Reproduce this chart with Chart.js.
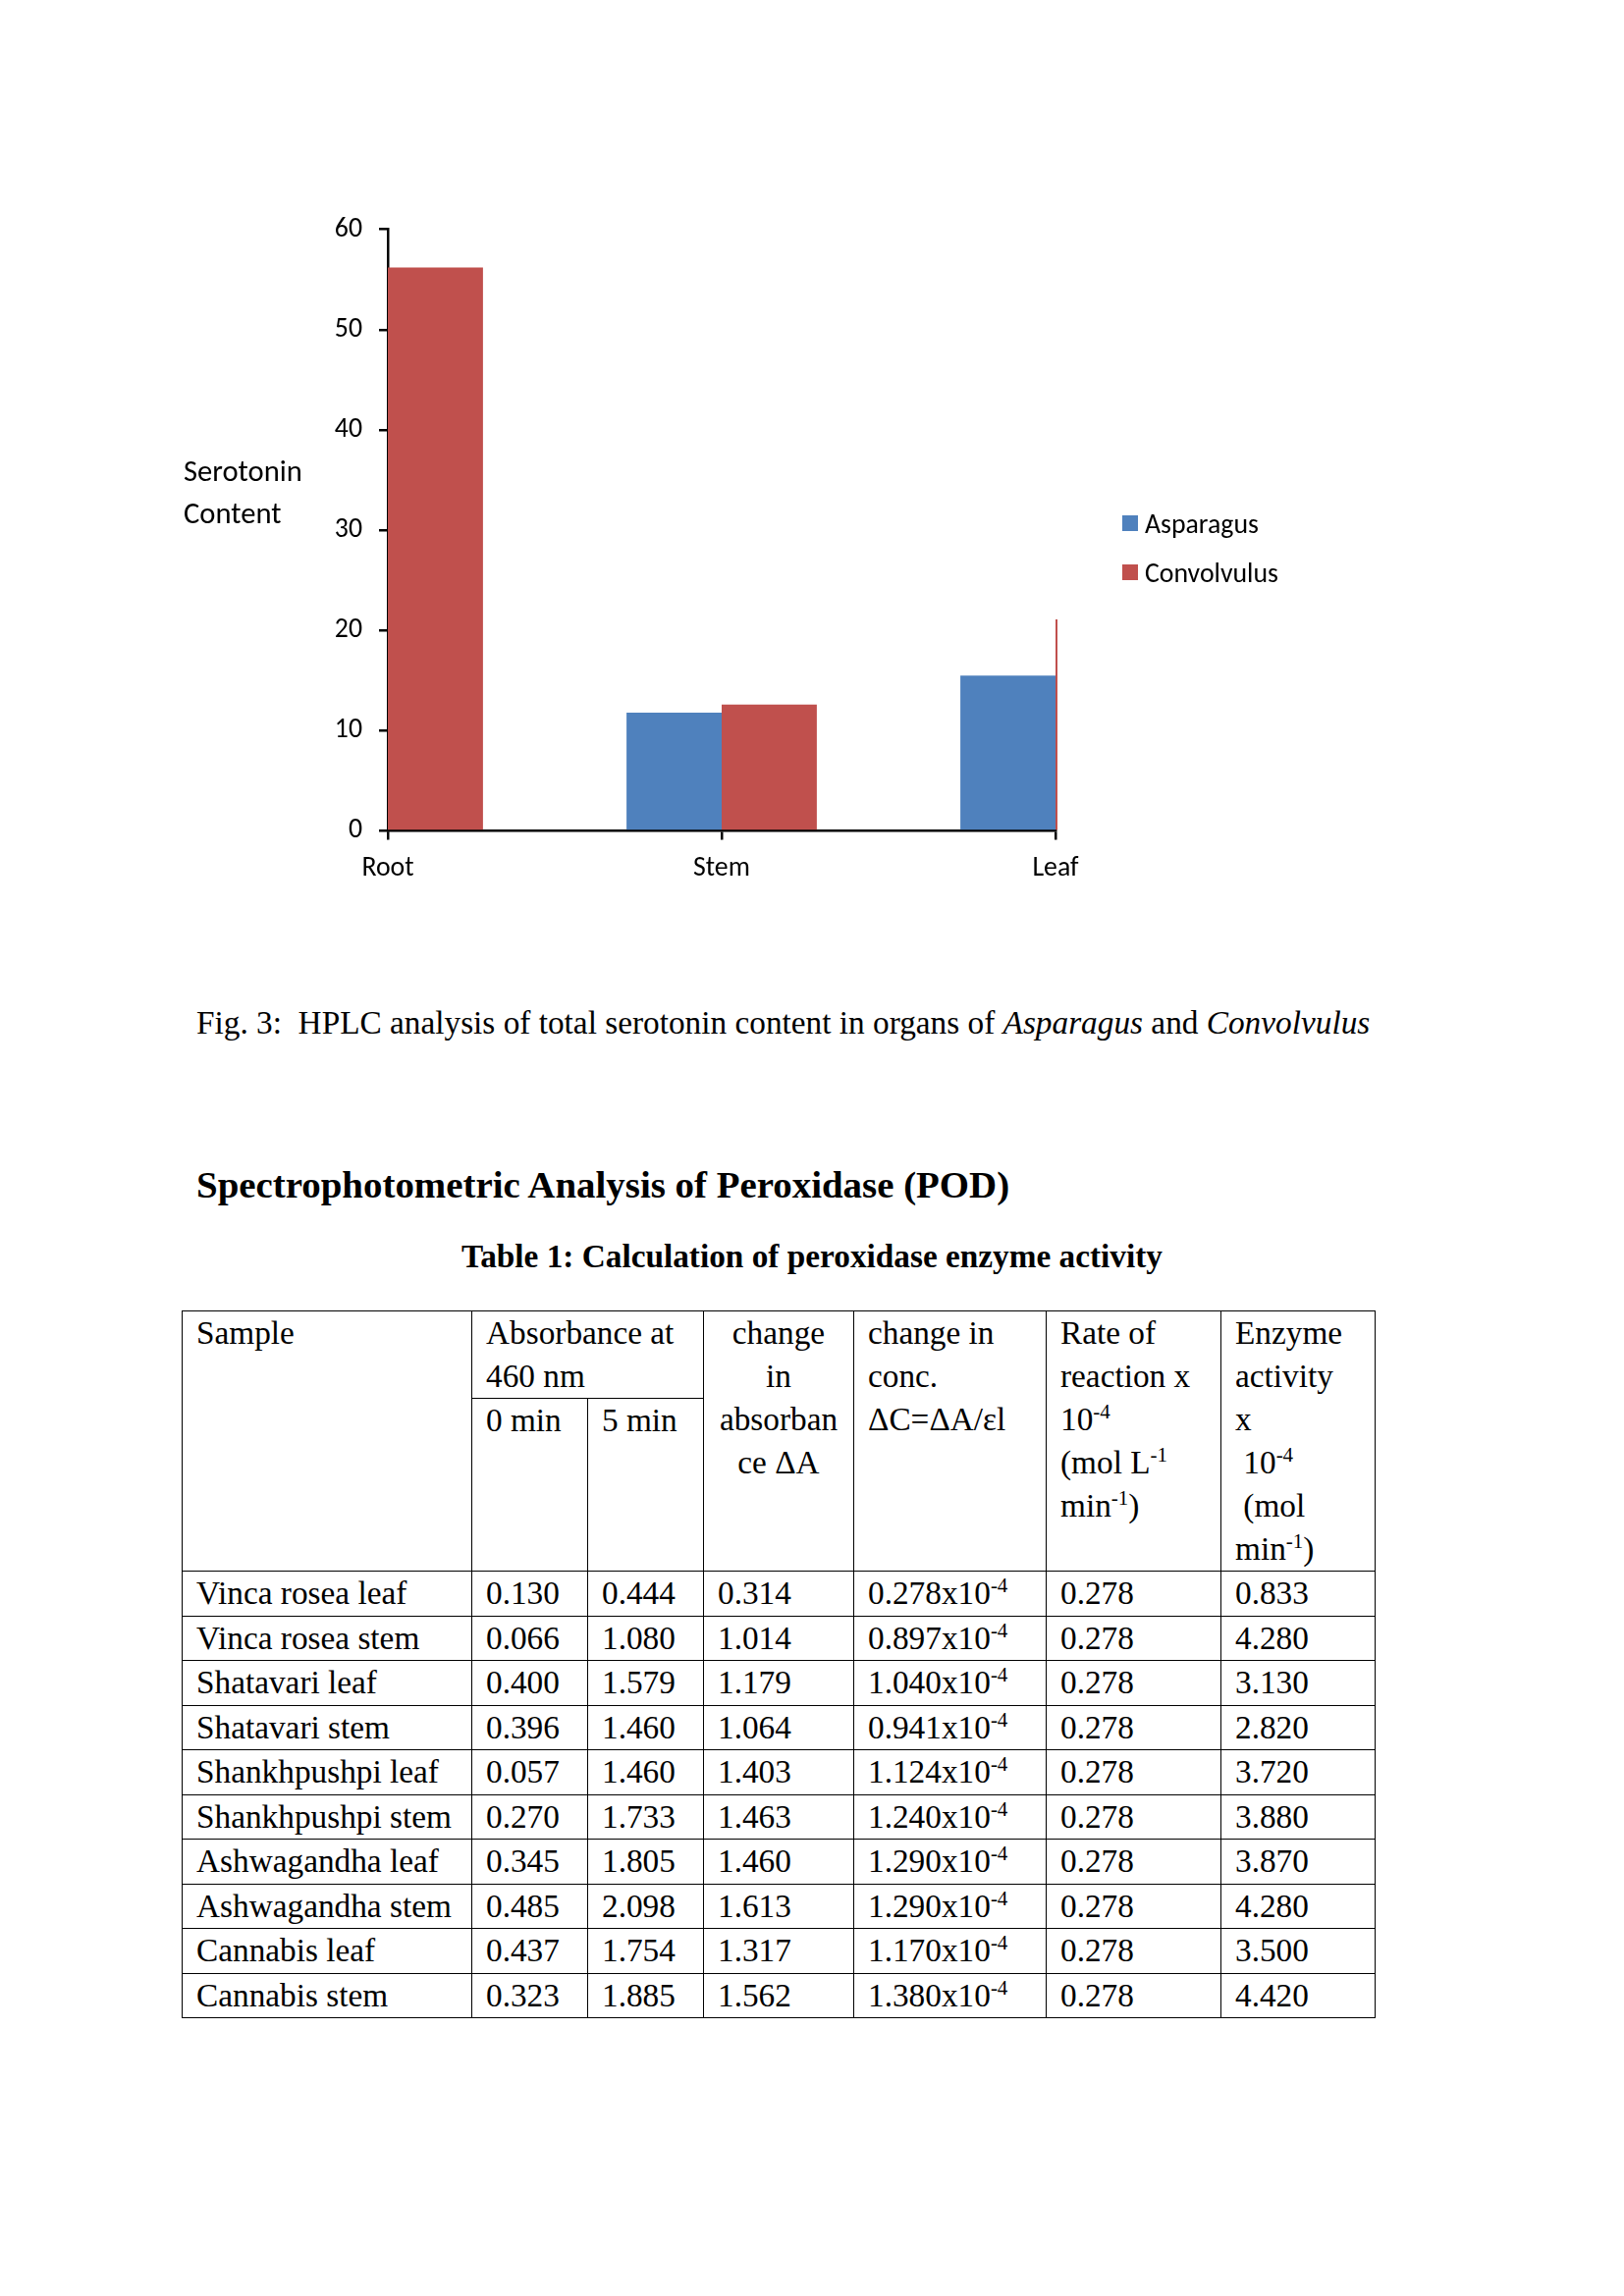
<!DOCTYPE html>
<html>
<head>
<meta charset="utf-8">
<script src="https://cdn.jsdelivr.net/npm/chart.js@4.4.1/dist/chart.umd.min.js"></script>
<style>
  html, body { margin: 0; padding: 0; background: #fff; }
  body { width: 1654px; height: 2339px; position: relative; overflow: hidden;
         font-family: "Liberation Serif", "Times New Roman", serif; color: #000; }
  .abs { position: absolute; }
  #chartBox { left: 300px; top: 200px; width: 880px; height: 720px; }
  .sans { font-family: Carlito, Lato, sans-serif; }
  #yTitle { left: 187px; top: 459px; font-size: 30.6px; line-height: 42.5px; }
  #legend { left: 1143px; top: 508px; font-size: 27.8px; }
  #legend .item { display: flex; align-items: center; height: 50px; }
  #legend .swatch { width: 16px; height: 16px; margin-right: 7px; }
  #caption { left: 200px; top: 1022px; font-size: 33.3px; line-height: 40px; white-space: pre; }
  #heading { left: 200px; top: 1183px; font-size: 38.9px; line-height: 48px; font-weight: bold; white-space: nowrap; }
  #tableTitle { left: 200px; width: 1254px; top: 1260px; font-size: 33.3px; line-height: 40px;
                font-weight: bold; text-align: center; }
  #podTable { left: 185px; top: 1335px; border-collapse: collapse; font-size: 33.3px; table-layout: fixed; }
  #podTable th, #podTable td { border: 1px solid #000; padding: 0 0 0 14px; line-height: 44px;
                               font-weight: normal; text-align: left; vertical-align: top; white-space: pre; }
  #podTable th.c { text-align: center; padding: 0; }
  #podTable tr.head1 { height: 89px; }
  #podTable tr.head2 { height: 176px; }
  #podTable td { height: 44.5px; vertical-align: middle; }
  .sup { font-size: 21px; position: relative; top: -12px; line-height: 0; }
</style>
</head>
<body>

<div id="chartBox" class="abs"><canvas id="serotoninChart" width="880" height="720"></canvas></div>
<div id="yTitle" class="abs sans">Serotonin<br>Content</div>
<div id="legend" class="abs sans"></div>

<div id="caption" class="abs">Fig. 3:  HPLC analysis of total serotonin content in organs of <i>Asparagus</i> and <i>Convolvulus</i></div>
<div id="heading" class="abs">Spectrophotometric Analysis of Peroxidase (POD)</div>
<div id="tableTitle" class="abs">Table 1: Calculation of peroxidase enzyme activity</div>

<table id="podTable" class="abs">
  <colgroup>
    <col style="width:295px"><col style="width:118px"><col style="width:118px"><col style="width:153px">
    <col style="width:196px"><col style="width:178px"><col style="width:157px">
  </colgroup>
  <thead>
    <tr class="head1">
      <th rowspan="2">Sample</th>
      <th colspan="2">Absorbance at<br>460 nm</th>
      <th rowspan="2" class="c">change<br>in<br>absorban<br>ce ΔA</th>
      <th rowspan="2">change in<br>conc.<br>ΔC=ΔA/εl</th>
      <th rowspan="2">Rate of<br>reaction x<br>10<span class="sup">-4</span><br>(mol L<span class="sup">-1</span><br>min<span class="sup">-1</span>)</th>
      <th rowspan="2">Enzyme<br>activity<br>x<br> 10<span class="sup">-4</span><br> (mol<br>min<span class="sup">-1</span>)</th>
    </tr>
    <tr class="head2"><th>0 min</th><th>5 min</th></tr>
  </thead>
  <tbody id="podBody"></tbody>
</table>

<script>
// chart data
const organs = ['Root', 'Stem', 'Leaf'];
const asparagus = [null, 11.8, 15.5];
const convolvulus = [56.2, 12.6, 21.1];
const seriesNames = ['Asparagus', 'Convolvulus'];
const seriesColors = ['#4F81BD', '#C0504D'];
const yMin = 0;
const yMax = 60;
const yStep = 10;

// table data
const samples = ['Vinca rosea leaf', 'Vinca rosea stem', 'Shatavari leaf', 'Shatavari stem', 'Shankhpushpi leaf',
                 'Shankhpushpi stem', 'Ashwagandha leaf', 'Ashwagandha stem', 'Cannabis leaf', 'Cannabis stem'];
const abs0 = ['0.130', '0.066', '0.400', '0.396', '0.057', '0.270', '0.345', '0.485', '0.437', '0.323'];
const abs5 = ['0.444', '1.080', '1.579', '1.460', '1.460', '1.733', '1.805', '2.098', '1.754', '1.885'];
const deltaA = ['0.314', '1.014', '1.179', '1.064', '1.403', '1.463', '1.460', '1.613', '1.317', '1.562'];
const deltaC = ['0.278', '0.897', '1.040', '0.941', '1.124', '1.240', '1.290', '1.290', '1.170', '1.380'];
const rate = ['0.278', '0.278', '0.278', '0.278', '0.278', '0.278', '0.278', '0.278', '0.278', '0.278'];
const enzyme = ['0.833', '4.280', '3.130', '2.820', '3.720', '3.880', '3.870', '4.280', '3.500', '4.420'];

const axisFont = { family: 'Carlito, Lato, sans-serif', size: 27.8 };

const ctx = document.getElementById('serotoninChart');
const chart = new Chart(ctx, {
    type: 'bar',
    data: {
        labels: organs,
        datasets: [
            { label: seriesNames[0], data: asparagus, backgroundColor: seriesColors[0],
              clip: { left: 0, top: false, right: 2, bottom: 0 } },
            { label: seriesNames[1], data: convolvulus, backgroundColor: seriesColors[1],
              clip: { left: 0, top: false, right: 2, bottom: 0 } }
        ]
    },
    options: {
        responsive: false,
        animation: false,
        devicePixelRatio: 1,
        categoryPercentage: 0.57,
        barPercentage: 1.0,
        layout: { padding: { left: 0, top: 31, right: 105, bottom: 13.5 } },
        plugins: {
            legend: { display: false },
            tooltip: { enabled: false }
        },
        scales: {
            x: {
                offset: false,
                z: 1,
                grid: { offset: false, drawOnChartArea: false, drawTicks: true, tickLength: 9,
                        lineWidth: 2.5, tickWidth: 2.5, tickColor: '#000' },
                border: { display: true, color: '#000', width: 2.5 },
                ticks: { color: '#000', font: axisFont, padding: 13, maxRotation: 0 },
                afterFit: (scale) => { scale.height = 60; }
            },
            y: {
                min: yMin,
                max: yMax,
                z: 1,
                grid: { drawOnChartArea: false, drawTicks: true, tickLength: 9,
                        lineWidth: 2.5, tickWidth: 2.5, tickColor: '#000' },
                border: { display: true, color: '#000', width: 2.5 },
                ticks: { stepSize: yStep, color: '#000', font: axisFont, padding: 17 },
                afterFit: (scale) => { scale.width = 95; }
            }
        }
    }
});

// legend built from the chart's datasets
const legendEl = document.getElementById('legend');
chart.data.datasets.forEach((ds) => {
    const item = document.createElement('div');
    item.className = 'item';
    const sw = document.createElement('span');
    sw.className = 'swatch';
    sw.style.background = ds.backgroundColor;
    const txt = document.createElement('span');
    txt.textContent = ds.label;
    item.appendChild(sw);
    item.appendChild(txt);
    legendEl.appendChild(item);
});

// table body
const body = document.getElementById('podBody');
samples.forEach((name, i) => {
    const tr = document.createElement('tr');
    const cells = [name, abs0[i], abs5[i], deltaA[i], null, rate[i], enzyme[i]];
    cells.forEach((val, j) => {
        const td = document.createElement('td');
        if (j === 4) {
            td.innerHTML = deltaC[i] + 'x10<span class="sup">-4</span>';
        } else {
            td.textContent = val;
        }
        tr.appendChild(td);
    });
    body.appendChild(tr);
});
</script>
</body>
</html>
